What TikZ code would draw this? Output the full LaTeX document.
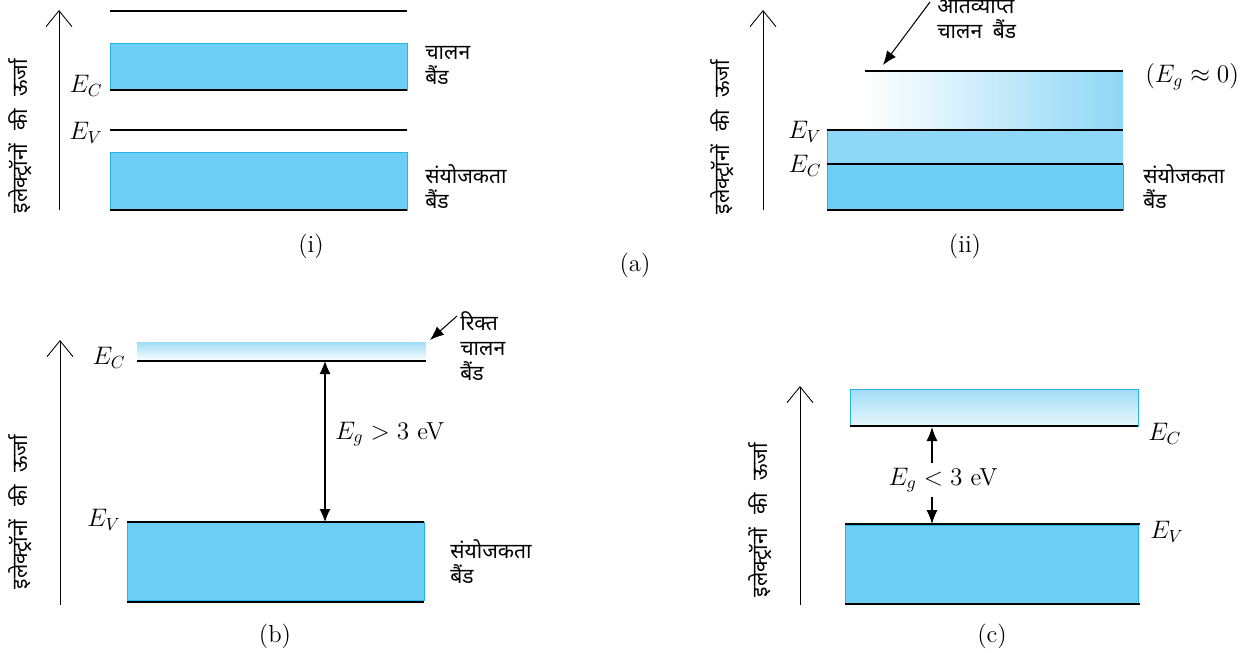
\documentclass[tikz,border=0pt]{standalone}
\usepackage{fontspec}
\newfontfamily\hindi[Script=Devanagari]{Noto Sans}
\usetikzlibrary{arrows.meta}
\definecolor{bandblue}{RGB}{109,207,246}
\definecolor{bandedge}{RGB}{40,178,232}
\definecolor{bandpale}{RGB}{142,215,246}
\definecolor{bandtop}{RGB}{160,221,246}
\definecolor{bandlow}{RGB}{232,246,252}
\newcommand{\energylabel}{इलेक्ट्रॉनों\hspace{0.6em}की\hspace{0.6em}ऊर्जा}

\begin{document}
\begin{tikzpicture}[x=0.2mm, y=-0.2mm,
  band/.style={fill=bandblue, draw=bandedge, line width=0.5pt},
  level/.style={draw=black, line width=0.6pt},
  axis/.style={-{Straight Barb[length=3.2mm, width=5.2mm]}, line width=0.5pt},
  gap/.style={{Latex[length=2.6mm, width=2.2mm]}-{Latex[length=2.6mm, width=2.2mm]}, line width=0.6pt},
  pointer/.style={-{Latex[length=2.8mm, width=2.2mm]}, line width=0.6pt},
  hlabel/.style={font=\hindi\fontsize{12}{14.2}\selectfont, align=left, inner sep=0pt, anchor=west},
  elabel/.style={font=\fontsize{14}{16}\selectfont, inner sep=0pt},
  caption/.style={font=\fontsize{14}{16}\selectfont, inner sep=0pt},
  yaxis/.style={font=\hindi\fontsize{12}{14}\selectfont, rotate=90, inner sep=0pt}
]
\useasboundingbox (0,0) rectangle (1248,653);

% (i) conduction band above valence band
\coordinate (ibot) at (59,210);
\coordinate (itop) at (59,10);
\draw[axis] (ibot) -- (itop);
\node[yaxis] (iy) at (20,136) {\energylabel};
\draw[level] (110,11) -- (407,11);
\draw[band] (110,43) rectangle (407,90);
\draw[level] (110,90) -- (407,90);
\draw[level] (110,130) -- (407,130);
\draw[band] (110,152) rectangle (407,210);
\draw[level] (110,210) -- (407,210);
\node[elabel, anchor=east] (iec) at (103,86) {$E_C$};
\node[elabel, anchor=east] (iev) at (103,133) {$E_V$};
\node[hlabel] (icb) at (425,65) {चालन\\बैंड};
\node[hlabel] (ivb) at (425,187) {संयोजकता\\बैंड};
\node[caption] (icap) at (311,246) {(i)};

\node[caption] (acap) at (635,265) {(a)};

% (ii) overlapping bands
\coordinate (iibot) at (763,210);
\coordinate (iitop) at (763,10);
\draw[axis] (iibot) -- (iitop);
\node[yaxis] (iiy) at (722,137) {\energylabel};
\shade[left color=white, right color=bandpale] (865,71) rectangle (1123,130);
\fill[bandpale] (827,130) rectangle (1123,164);
\draw[band] (827,164) rectangle (1123,210);
\draw[bandedge, line width=0.5pt] (827,130) -- (827,164);
\draw[level] (865,71) -- (1123,71);
\draw[level] (827,130) -- (1123,130);
\draw[level] (827,164) -- (1123,164);
\draw[level] (827,210) -- (1123,210);
\node[elabel, anchor=east] (iiev) at (822,132) {$E_V$};
\node[elabel, anchor=east] (iiec) at (822,166) {$E_C$};
\node[elabel, anchor=west] (iieg) at (1145,77) {$(E_g\approx 0)$};
\node[hlabel] (iiov) at (937,17) {अतिव्याप्त\\चालन\hspace{0.5em}बैंड};
\coordinate (iitail) at (930,2);
\coordinate (iitip) at (883,65);
\draw[pointer] (iitail) -- (iitip);
\node[hlabel] (iivb) at (1143,187) {संयोजकता\\बैंड};
\node[caption] (iicap) at (965,246) {(ii)};

% (b) wide gap
\coordinate (bbot) at (60,605);
\coordinate (btop) at (60,340);
\draw[axis] (bbot) -- (btop);
\node[yaxis] (by) at (20,512) {\energylabel};
\shade[top color=bandtop, bottom color=white] (137,342) rectangle (426,361);
\draw[level] (137,361) -- (426,361);
\draw[band] (127,522) rectangle (424,600);
\draw[level] (127,522) -- (424,522);
\draw[level] (127,602) -- (424,602);
\node[elabel, anchor=east] (bec) at (126,358) {$E_C$};
\node[elabel, anchor=east] (bev) at (121,520) {$E_V$};
\coordinate (bgc) at (325,361);
\coordinate (bgv) at (325,522);
\draw[gap] (bgc) -- (bgv);
\node[elabel, anchor=west] (bgap) at (335,434) {$E_g > 3$ eV};
\node[hlabel] (bcb) at (460,346) {रिक्त\\चालन\\बैंड};
\coordinate (btail) at (457,316);
\coordinate (btip) at (430,340);
\draw[pointer] (btail) -- (btip);
\node[hlabel] (bvb) at (450,562) {संयोजकता\\बैंड};
\node[caption] (bcap) at (275,636) {(b)};

% (c) small gap
\coordinate (cbot) at (800,605);
\coordinate (ctop) at (800,386);
\draw[axis] (cbot) -- (ctop);
\node[yaxis] (cy) at (760,520) {\energylabel};
\shade[top color=bandtop, bottom color=bandlow, draw=bandedge, line width=0.5pt] (850,389) rectangle (1138,426);
\draw[level] (850,426) -- (1138,426);
\draw[band] (845,525) rectangle (1138,603);
\draw[level] (845,524) -- (1140,524);
\draw[level] (845,604) -- (1140,604);
\node[elabel, anchor=west] (cec) at (1148,434) {$E_C$};
\node[elabel, anchor=west] (cev) at (1150,532) {$E_V$};
\coordinate (cgc) at (932,427);
\coordinate (cgv) at (932,524);
\node[elabel] (cgap) at (943,480) {$E_g < 3$ eV};
\draw[pointer] (cgap.north -| cgc) ++(0,-4) -- (cgc);
\draw[pointer] (cgap.south -| cgv) ++(0,4) -- (cgv);
\node[caption] (ccap) at (992,636) {(c)};
\end{tikzpicture}
\end{document}
